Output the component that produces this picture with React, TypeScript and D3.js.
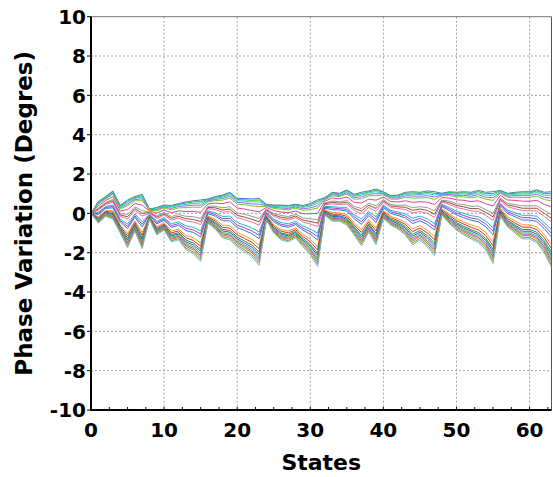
import React from "react";
import * as d3 from "d3";

const states: number[] = Array.from({ length: 64 }, (_, i) => i);
const xTicks = [0, 10, 20, 30, 40, 50, 60];
const xMinorTicks = d3.range(0, 63, 2.5);
const yTicks = [-10, -8, -6, -4, -2, 0, 2, 4, 6, 8, 10];

const line00 = [0, 0.6, 0.85, 1.14, 0.4, 0.68, 0.85, 0.97, 0.22, 0.3, 0.42, 0.4, 0.5, 0.58, 0.64, 0.68, 0.73, 0.85, 0.93, 1.07, 0.76, 0.76, 0.73, 0.76, 0.46, 0.42, 0.42, 0.4, 0.46, 0.4, 0.5, 0.68, 0.8, 1.07, 1.02, 1.19, 0.97, 1.07, 1.14, 1.24, 1.1, 0.9, 0.93, 1.07, 1.1, 1.07, 1.14, 1.1, 1.02, 1.1, 1.07, 1.1, 1.07, 1.17, 1.07, 1.1, 1.17, 1.02, 1.07, 1.1, 1.1, 1.2, 1.07, 1.1];
const line00b = [0, 0.58, 0.83, 1.1, 0.37, 0.62, 0.8, 0.9, 0.2, 0.27, 0.39, 0.36, 0.45, 0.52, 0.58, 0.6, 0.7, 0.81, 0.88, 1.01, 0.7, 0.69, 0.66, 0.68, 0.44, 0.39, 0.38, 0.36, 0.42, 0.35, 0.44, 0.6, 0.78, 1.04, 0.99, 1.15, 0.92, 1.0, 1.09, 1.17, 1.07, 0.87, 0.89, 1.02, 1.04, 1.01, 1.07, 1.02, 0.99, 1.06, 1.02, 1.05, 1.01, 1.11, 1.0, 1.01, 1.14, 0.98, 1.02, 1.04, 1.04, 1.14, 1.0, 1.01];
const line01 = [0, 0.55, 0.8, 1.07, 0.33, 0.56, 0.76, 0.83, 0.19, 0.23, 0.36, 0.31, 0.41, 0.46, 0.51, 0.52, 0.67, 0.77, 0.82, 0.95, 0.64, 0.62, 0.58, 0.59, 0.42, 0.35, 0.33, 0.31, 0.37, 0.3, 0.37, 0.51, 0.76, 1.0, 0.95, 1.1, 0.87, 0.93, 1.04, 1.1, 1.03, 0.83, 0.84, 0.96, 0.97, 0.95, 1.0, 0.94, 0.96, 1.02, 0.97, 0.99, 0.95, 1.04, 0.92, 0.92, 1.1, 0.93, 0.97, 0.98, 0.98, 1.07, 0.92, 0.91];
const line01b = [0, 0.51, 0.77, 1.02, 0.28, 0.48, 0.7, 0.74, 0.18, 0.18, 0.32, 0.25, 0.35, 0.38, 0.42, 0.41, 0.63, 0.71, 0.75, 0.87, 0.56, 0.53, 0.48, 0.47, 0.39, 0.3, 0.27, 0.25, 0.32, 0.23, 0.28, 0.39, 0.73, 0.95, 0.9, 1.04, 0.8, 0.84, 0.97, 1.0, 0.99, 0.78, 0.78, 0.89, 0.88, 0.87, 0.9, 0.83, 0.93, 0.97, 0.91, 0.92, 0.87, 0.95, 0.82, 0.79, 1.06, 0.87, 0.9, 0.9, 0.9, 0.98, 0.81, 0.78];
const line02 = [0, 0.47, 0.73, 0.97, 0.23, 0.39, 0.64, 0.64, 0.16, 0.13, 0.27, 0.18, 0.28, 0.29, 0.32, 0.3, 0.58, 0.65, 0.67, 0.78, 0.47, 0.44, 0.38, 0.35, 0.36, 0.25, 0.21, 0.18, 0.26, 0.15, 0.19, 0.27, 0.69, 0.89, 0.85, 0.98, 0.72, 0.74, 0.89, 0.9, 0.94, 0.72, 0.72, 0.81, 0.78, 0.78, 0.8, 0.71, 0.89, 0.91, 0.84, 0.84, 0.79, 0.85, 0.72, 0.66, 1.01, 0.81, 0.82, 0.81, 0.81, 0.88, 0.7, 0.64];
const line03 = [0, 0.38, 0.65, 0.85, 0.12, 0.19, 0.5, 0.42, 0.12, 0.02, 0.17, 0.03, 0.13, 0.09, 0.1, 0.05, 0.48, 0.52, 0.49, 0.59, 0.27, 0.22, 0.14, 0.08, 0.3, 0.14, 0.07, 0.03, 0.12, -0.02, -0.02, 0.0, 0.62, 0.78, 0.74, 0.83, 0.56, 0.53, 0.72, 0.67, 0.83, 0.6, 0.58, 0.64, 0.56, 0.59, 0.57, 0.45, 0.8, 0.78, 0.69, 0.66, 0.6, 0.64, 0.49, 0.37, 0.91, 0.68, 0.66, 0.62, 0.62, 0.66, 0.46, 0.33];
const line04 = [0, 0.27, 0.55, 0.71, -0.02, -0.05, 0.33, 0.14, 0.06, -0.12, 0.04, -0.16, -0.06, -0.15, -0.17, -0.26, 0.36, 0.36, 0.28, 0.34, 0.02, -0.05, -0.15, -0.26, 0.22, -0.01, -0.11, -0.16, -0.05, -0.23, -0.28, -0.33, 0.53, 0.63, 0.59, 0.65, 0.35, 0.25, 0.51, 0.39, 0.7, 0.45, 0.41, 0.42, 0.29, 0.34, 0.29, 0.13, 0.68, 0.62, 0.49, 0.44, 0.36, 0.37, 0.19, 0.0, 0.77, 0.5, 0.45, 0.38, 0.38, 0.39, 0.15, -0.06];
const line04b = [0, 0.22, 0.5, 0.64, -0.09, -0.17, 0.24, 0.0, 0.04, -0.19, -0.03, -0.25, -0.15, -0.27, -0.31, -0.42, 0.3, 0.28, 0.17, 0.22, -0.1, -0.19, -0.3, -0.43, 0.18, -0.08, -0.2, -0.25, -0.14, -0.34, -0.41, -0.5, 0.49, 0.56, 0.52, 0.56, 0.25, 0.12, 0.41, 0.25, 0.63, 0.38, 0.33, 0.31, 0.16, 0.22, 0.15, -0.04, 0.63, 0.54, 0.4, 0.33, 0.24, 0.24, 0.05, -0.18, 0.71, 0.42, 0.35, 0.26, 0.26, 0.26, 0.0, -0.25];
const line05 = [0, 0.16, 0.45, 0.56, -0.16, -0.29, 0.15, -0.14, 0.01, -0.26, -0.09, -0.34, -0.24, -0.39, -0.44, -0.57, 0.24, 0.19, 0.06, 0.1, -0.22, -0.32, -0.44, -0.6, 0.14, -0.15, -0.29, -0.34, -0.22, -0.44, -0.54, -0.67, 0.44, 0.48, 0.45, 0.47, 0.14, -0.02, 0.3, 0.1, 0.56, 0.3, 0.24, 0.2, 0.02, 0.1, 0.0, -0.2, 0.57, 0.46, 0.3, 0.22, 0.12, 0.1, -0.1, -0.36, 0.64, 0.33, 0.24, 0.14, 0.14, 0.12, -0.16, -0.44];
const line06 = [0, 0.05, 0.35, 0.42, -0.3, -0.54, -0.03, -0.42, -0.04, -0.4, -0.22, -0.53, -0.43, -0.64, -0.71, -0.89, 0.12, 0.03, -0.16, -0.14, -0.47, -0.6, -0.74, -0.95, 0.06, -0.29, -0.47, -0.53, -0.4, -0.65, -0.8, -1.01, 0.35, 0.34, 0.31, 0.3, -0.07, -0.29, 0.1, -0.18, 0.43, 0.15, 0.07, -0.02, -0.25, -0.14, -0.28, -0.53, 0.46, 0.3, 0.11, 0.0, -0.12, -0.17, -0.39, -0.73, 0.51, 0.16, 0.04, -0.1, -0.1, -0.15, -0.47, -0.83];
const line06b = [0, 0.0, 0.3, 0.35, -0.37, -0.66, -0.12, -0.56, -0.07, -0.47, -0.28, -0.62, -0.52, -0.76, -0.84, -1.05, 0.06, -0.06, -0.27, -0.26, -0.6, -0.74, -0.89, -1.12, 0.02, -0.36, -0.56, -0.62, -0.49, -0.76, -0.93, -1.18, 0.31, 0.27, 0.24, 0.21, -0.17, -0.43, 0.0, -0.32, 0.36, 0.08, -0.02, -0.13, -0.39, -0.26, -0.42, -0.69, 0.41, 0.22, 0.02, -0.11, -0.24, -0.3, -0.54, -0.91, 0.45, 0.08, -0.07, -0.22, -0.22, -0.29, -0.62, -1.02];
const line07 = [0, -0.06, 0.25, 0.28, -0.44, -0.78, -0.2, -0.69, -0.09, -0.54, -0.34, -0.71, -0.61, -0.88, -0.97, -1.2, -0.01, -0.14, -0.38, -0.38, -0.72, -0.87, -1.03, -1.29, -0.03, -0.43, -0.64, -0.71, -0.57, -0.86, -1.06, -1.35, 0.26, 0.19, 0.17, 0.12, -0.27, -0.56, -0.11, -0.46, 0.29, 0.0, -0.11, -0.23, -0.52, -0.38, -0.56, -0.85, 0.35, 0.14, -0.08, -0.22, -0.35, -0.43, -0.68, -1.09, 0.38, -0.01, -0.17, -0.34, -0.34, -0.42, -0.77, -1.21];
const line08 = [0, -0.17, 0.15, 0.13, -0.58, -1.02, -0.38, -0.97, -0.14, -0.68, -0.47, -0.9, -0.8, -1.12, -1.24, -1.51, -0.13, -0.31, -0.6, -0.62, -0.96, -1.14, -1.32, -1.63, -0.11, -0.57, -0.82, -0.9, -0.74, -1.07, -1.32, -1.69, 0.17, 0.04, 0.03, -0.06, -0.48, -0.83, -0.32, -0.75, 0.16, -0.15, -0.28, -0.45, -0.79, -0.62, -0.85, -1.18, 0.24, -0.02, -0.27, -0.44, -0.59, -0.7, -0.97, -1.46, 0.25, -0.18, -0.38, -0.58, -0.58, -0.69, -1.08, -1.6];
const line08b = [0, -0.23, 0.1, 0.06, -0.65, -1.14, -0.47, -1.11, -0.17, -0.75, -0.54, -0.99, -0.89, -1.24, -1.38, -1.67, -0.19, -0.39, -0.71, -0.75, -1.09, -1.28, -1.47, -1.8, -0.15, -0.65, -0.91, -0.99, -0.83, -1.18, -1.45, -1.86, 0.13, -0.04, -0.05, -0.15, -0.59, -0.97, -0.43, -0.89, 0.09, -0.23, -0.37, -0.56, -0.93, -0.75, -0.99, -1.34, 0.18, -0.1, -0.37, -0.55, -0.71, -0.84, -1.12, -1.64, 0.18, -0.27, -0.49, -0.7, -0.7, -0.83, -1.24, -1.79];
const line09 = [0, -0.28, 0.05, -0.01, -0.72, -1.26, -0.55, -1.25, -0.2, -0.82, -0.6, -1.08, -0.98, -1.36, -1.51, -1.82, -0.25, -0.47, -0.81, -0.87, -1.21, -1.41, -1.61, -1.97, -0.19, -0.72, -1.0, -1.08, -0.91, -1.28, -1.58, -2.02, 0.08, -0.11, -0.12, -0.24, -0.69, -1.11, -0.53, -1.03, 0.02, -0.3, -0.45, -0.67, -1.06, -0.87, -1.13, -1.5, 0.12, -0.18, -0.47, -0.66, -0.83, -0.97, -1.27, -1.82, 0.11, -0.36, -0.59, -0.82, -0.82, -0.96, -1.39, -1.98];
const line09b = [0, -0.32, 0.02, -0.06, -0.77, -1.35, -0.61, -1.35, -0.22, -0.87, -0.65, -1.15, -1.05, -1.45, -1.61, -1.93, -0.3, -0.53, -0.89, -0.96, -1.3, -1.51, -1.72, -2.09, -0.22, -0.77, -1.06, -1.15, -0.97, -1.36, -1.67, -2.14, 0.05, -0.16, -0.17, -0.31, -0.76, -1.21, -0.61, -1.13, -0.03, -0.36, -0.52, -0.75, -1.16, -0.96, -1.23, -1.62, 0.09, -0.24, -0.54, -0.74, -0.91, -1.06, -1.37, -1.95, 0.07, -0.42, -0.66, -0.91, -0.91, -1.06, -1.5, -2.12];
const line10 = [0, -0.36, -0.02, -0.11, -0.82, -1.43, -0.67, -1.44, -0.23, -0.92, -0.69, -1.21, -1.11, -1.53, -1.7, -2.04, -0.34, -0.59, -0.97, -1.04, -1.38, -1.6, -1.82, -2.21, -0.25, -0.82, -1.12, -1.21, -1.03, -1.43, -1.76, -2.26, 0.02, -0.21, -0.22, -0.37, -0.83, -1.3, -0.68, -1.23, -0.07, -0.41, -0.58, -0.82, -1.25, -1.04, -1.33, -1.73, 0.05, -0.29, -0.6, -0.81, -0.99, -1.15, -1.47, -2.08, 0.02, -0.48, -0.73, -0.99, -0.99, -1.15, -1.6, -2.25];
const line10b = [0, -0.39, -0.05, -0.16, -0.86, -1.51, -0.73, -1.53, -0.25, -0.96, -0.73, -1.27, -1.17, -1.61, -1.78, -2.14, -0.38, -0.64, -1.04, -1.11, -1.46, -1.68, -1.91, -2.31, -0.27, -0.86, -1.18, -1.27, -1.08, -1.49, -1.84, -2.36, -0.01, -0.26, -0.26, -0.42, -0.9, -1.38, -0.74, -1.32, -0.12, -0.46, -0.63, -0.89, -1.33, -1.11, -1.42, -1.83, 0.02, -0.34, -0.66, -0.88, -1.06, -1.23, -1.56, -2.19, -0.02, -0.53, -0.8, -1.06, -1.06, -1.23, -1.7, -2.37];
const line11 = [0, -0.42, -0.08, -0.2, -0.9, -1.58, -0.78, -1.61, -0.26, -1.0, -0.76, -1.32, -1.22, -1.68, -1.86, -2.23, -0.41, -0.68, -1.1, -1.18, -1.53, -1.76, -2.0, -2.41, -0.29, -0.9, -1.23, -1.32, -1.13, -1.55, -1.92, -2.46, -0.04, -0.3, -0.3, -0.47, -0.96, -1.46, -0.8, -1.4, -0.16, -0.5, -0.68, -0.95, -1.41, -1.18, -1.5, -1.92, -0.02, -0.39, -0.72, -0.95, -1.13, -1.31, -1.65, -2.29, -0.06, -0.58, -0.86, -1.13, -1.13, -1.31, -1.79, -2.48];
const line11b = [0, -0.46, -0.12, -0.25, -0.95, -1.67, -0.84, -1.71, -0.28, -1.05, -0.81, -1.39, -1.29, -1.77, -1.96, -2.34, -0.46, -0.74, -1.18, -1.27, -1.62, -1.86, -2.1, -2.53, -0.32, -0.95, -1.29, -1.39, -1.19, -1.63, -2.01, -2.58, -0.07, -0.35, -0.35, -0.54, -1.03, -1.56, -0.88, -1.5, -0.21, -0.55, -0.74, -1.03, -1.51, -1.27, -1.6, -2.04, -0.06, -0.45, -0.79, -1.03, -1.22, -1.41, -1.75, -2.42, -0.11, -0.64, -0.93, -1.22, -1.22, -1.41, -1.9, -2.62];
const line12 = [0, -0.5, -0.15, -0.3, -1.0, -1.75, -0.9, -1.8, -0.3, -1.1, -0.85, -1.45, -1.35, -1.85, -2.05, -2.45, -0.5, -0.8, -1.25, -1.35, -1.7, -1.95, -2.2, -2.65, -0.35, -1.0, -1.35, -1.45, -1.25, -1.7, -2.1, -2.7, -0.1, -0.4, -0.4, -0.6, -1.1, -1.65, -0.95, -1.6, -0.25, -0.6, -0.8, -1.1, -1.6, -1.35, -1.7, -2.15, -0.1, -0.5, -0.85, -1.1, -1.3, -1.5, -1.85, -2.55, -0.15, -0.7, -1.0, -1.3, -1.3, -1.5, -2.0, -2.75];

const seriesList = [
  line00, line00b, line01, line01b, line02, line03, line04, line04b, line05,
  line06, line06b, line07, line08, line08b, line09, line09b, line10, line10b,
  line11, line11b, line12,
];
const seriesColors = [
  "#4a78c0", "#22bb44", "#33cccc", "#9966ee", "#66cc33", "#e0409a", "#999999",
  "#8a5a2b", "#ff66aa", "#20b8c8", "#9944cc", "#3377dd", "#ff9922", "#cc3333",
  "#338833", "#3355cc", "#33cc66", "#aa44cc", "#dd7722", "#55aa22", "#86aee0",
];

const W = 553;
const H = 477;
const left = 91;
const right = 551.5;
const top = 16.7;
const bottom = 410;

export default function App() {
  const x = d3.scaleLinear().domain([0, 63]).range([left, right]);
  const y = d3.scaleLinear().domain([-10, 10]).range([bottom, top]);
  const line = d3
    .line<number>()
    .x((_, i) => x(states[i]))
    .y((d) => y(d));
  const font = "'DejaVu Sans', Verdana, sans-serif";

  return (
    <svg
      width={W}
      height={H}
      style={{ position: "absolute", left: 0, top: 0, background: "#fff" }}
    >
      <rect x={0} y={0} width={W} height={H} fill="#fff" />
      {xTicks
        .filter((t) => t > 0)
        .map((t) => (
          <line
            key={"gx" + t}
            x1={x(t)}
            x2={x(t)}
            y1={top}
            y2={bottom}
            stroke="#a0a0a0"
            strokeWidth={1}
            strokeDasharray="2,2"
          />
        ))}
      {yTicks
        .filter((t) => t > -10 && t < 10)
        .map((t) => (
          <line
            key={"gy" + t}
            x1={left}
            x2={right}
            y1={y(t)}
            y2={y(t)}
            stroke="#a0a0a0"
            strokeWidth={1}
            strokeDasharray="2,2"
          />
        ))}
      <line x1={left} x2={right} y1={top} y2={top} stroke="#777" strokeWidth={1} />
      <line x1={right} x2={right} y1={top} y2={bottom} stroke="#555" strokeWidth={1} />
      <defs>
        <clipPath id="plotclip">
          <rect x={left} y={top} width={right - left} height={bottom - top} />
        </clipPath>
      </defs>
      <g clipPath="url(#plotclip)">
        {seriesList.map((s, i) => (
          <path
            key={"s" + i}
            d={line(s) || ""}
            fill="none"
            stroke={seriesColors[i % seriesColors.length]}
            strokeWidth={1}
          />
        ))}
      </g>
      {xMinorTicks.map((t) => (
        <line
          key={"mx" + t}
          x1={x(t)}
          x2={x(t)}
          y1={bottom}
          y2={bottom - 3}
          stroke="#000"
          strokeWidth={1}
        />
      ))}
      {yTicks.map((t) => (
        <line
          key={"ty" + t}
          x1={left - 4}
          x2={left}
          y1={y(t)}
          y2={y(t)}
          stroke="#000"
          strokeWidth={1}
        />
      ))}
      <line x1={left} x2={left} y1={top} y2={bottom + 1} stroke="#000" strokeWidth={2} />
      <line x1={left - 1} x2={right} y1={bottom} y2={bottom} stroke="#000" strokeWidth={2} />
      {yTicks.map((t) => (
        <text
          key={"ly" + t}
          x={left - 5}
          y={y(t)}
          dy="0.36em"
          textAnchor="end"
          fontFamily={font}
          fontWeight="bold"
          fontSize={20}
          fill="#000"
        >
          {t}
        </text>
      ))}
      {xTicks.map((t) => (
        <text
          key={"lx" + t}
          x={x(t)}
          y={437}
          textAnchor="middle"
          fontFamily={font}
          fontWeight="bold"
          fontSize={20}
          fill="#000"
        >
          {t}
        </text>
      ))}
      <text
        x={(left + right) / 2}
        y={470}
        textAnchor="middle"
        fontFamily={font}
        fontWeight="bold"
        fontSize={22}
        fill="#000"
      >
        States
      </text>
      <text
        transform={`translate(32, ${(top + bottom) / 2}) rotate(-90)`}
        textAnchor="middle"
        fontFamily={font}
        fontWeight="bold"
        fontSize={23}
        fill="#000"
      >
        Phase Variation (Degres)
      </text>
    </svg>
  );
}
